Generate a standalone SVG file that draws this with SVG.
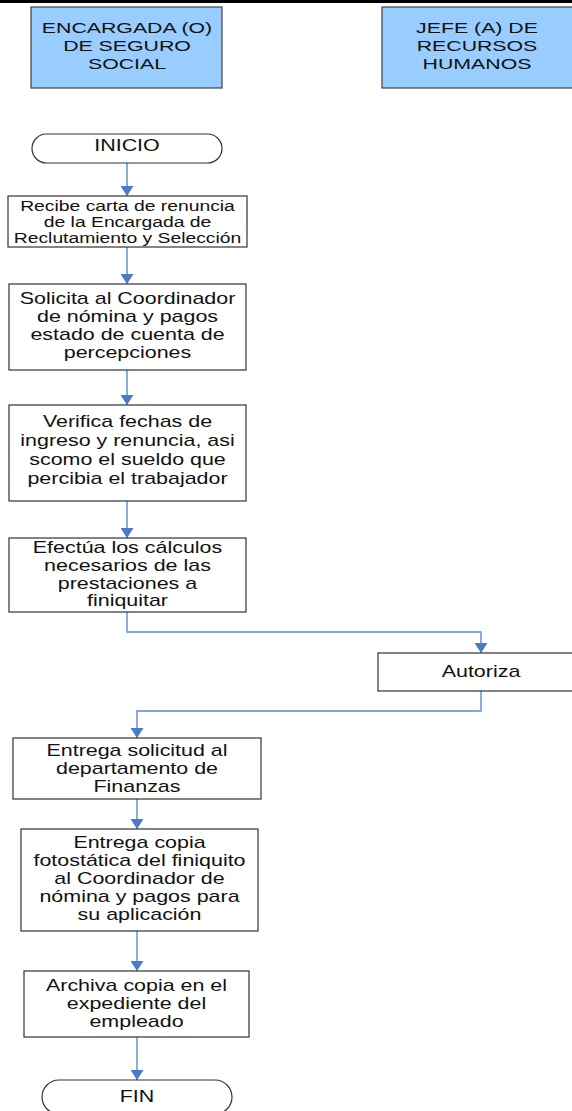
<svg xmlns="http://www.w3.org/2000/svg" width="572" height="1111" viewBox="0 0 572 1111">
  <defs>
    <!-- filled arrowhead, tip at the end of the line -->
    <marker id="arrow" markerUnits="userSpaceOnUse" markerWidth="11" markerHeight="13" refX="10" refY="6.5" orient="auto" viewBox="0 0 11 13">
      <path d="M0,0 L10,6.5 L0,13 Z" fill="#4A7BC8"/>
    </marker>
    <style>
      .lane { fill: #99CCFF; stroke: #404040; stroke-width: 1.2; }
      .box { fill: #FFFFFF; stroke: #333333; stroke-width: 1.2; }
      .term { fill: #FFFFFF; stroke: #333333; stroke-width: 1.2; }
      .t { font-family: "Liberation Sans", Arial, sans-serif; fill: #111111; text-anchor: middle; }
      .h { font-size: 15px; }
      .s { font-size: 14px; }
      .m { font-size: 16px; }
      .link { fill: none; stroke: #5B8AD0; stroke-width: 1.4; }
      .arr { marker-end: url(#arrow); }
    </style>
  </defs>

  <rect x="0" y="0" width="572" height="3" fill="#000000"/>

  <!-- swimlane headers -->
  <g id="lane-seguro-social">
    <rect class="lane" x="31" y="7" width="191" height="81"/>
    <g transform="translate(127 0) scale(1.42 1)">
      <text class="t h" x="0" y="33">ENCARGADA (O)</text>
      <text class="t h" x="0" y="51">DE SEGURO</text>
      <text class="t h" x="0" y="69">SOCIAL</text>
    </g>
  </g>
  <g id="lane-rrhh">
    <rect class="lane" x="382" y="7" width="191" height="81"/>
    <g transform="translate(477 0) scale(1.42 1)">
      <text class="t h" x="0" y="33">JEFE (A) DE</text>
      <text class="t h" x="0" y="51">RECURSOS</text>
      <text class="t h" x="0" y="69">HUMANOS</text>
    </g>
  </g>

  <!-- connectors -->
  <g id="connectors">
    <path class="link arr" d="M127,163 V196"/>
    <path class="link arr" d="M127,247 V284"/>
    <path class="link arr" d="M127,370 V405"/>
    <path class="link arr" d="M127,501 V538"/>
    <path class="link arr" d="M127,612 V632 H481 V653"/>
    <path class="link arr" d="M481,691 V711 H137 V738"/>
    <path class="link arr" d="M137,799 V829"/>
    <path class="link arr" d="M137,931 V971"/>
    <path class="link arr" d="M137,1037 V1080"/>
  </g>

  <g id="inicio">
    <rect class="term" x="32" y="134" width="190" height="29" rx="14.5" ry="14.5"/>
    <g transform="translate(127 0) scale(1.34 1)">
      <text class="t m" x="0" y="151">INICIO</text>
    </g>
  </g>

  <g id="recibe-carta">
    <rect class="box" x="8" y="196" width="239" height="51"/>
    <g transform="translate(127.5 0) scale(1.38 1)">
      <text class="t s" x="0" y="211">Recibe carta de renuncia</text>
      <text class="t s" x="0" y="227">de la Encargada de</text>
      <text class="t s" x="0" y="243">Reclutamiento y Selección</text>
    </g>
  </g>

  <g id="solicita-estado">
    <rect class="box" x="9" y="284" width="237" height="86"/>
    <g transform="translate(127.5 0) scale(1.34 1)">
      <text class="t m" x="0" y="304">Solicita al Coordinador</text>
      <text class="t m" x="0" y="322">de nómina y pagos</text>
      <text class="t m" x="0" y="340">estado de cuenta de</text>
      <text class="t m" x="0" y="358">percepciones</text>
    </g>
  </g>

  <g id="verifica-fechas">
    <rect class="box" x="9" y="405" width="237" height="96"/>
    <g transform="translate(127.5 0) scale(1.34 1)">
      <text class="t m" x="0" y="427">Verifica fechas de</text>
      <text class="t m" x="0" y="446">ingreso y renuncia, asi</text>
      <text class="t m" x="0" y="465">scomo el sueldo que</text>
      <text class="t m" x="0" y="484">percibia el trabajador</text>
    </g>
  </g>

  <g id="efectua-calculos">
    <rect class="box" x="9" y="538" width="237" height="74"/>
    <g transform="translate(127.5 0) scale(1.34 1)">
      <text class="t m" x="0" y="553">Efectúa los cálculos</text>
      <text class="t m" x="0" y="571">necesarios de las</text>
      <text class="t m" x="0" y="589">prestaciones a</text>
      <text class="t m" x="0" y="606">finiquitar</text>
    </g>
  </g>

  <g id="autoriza">
    <rect class="box" x="378" y="653" width="196" height="38"/>
    <g transform="translate(481 0) scale(1.34 1)">
      <text class="t m" x="0" y="677">Autoriza</text>
    </g>
  </g>

  <g id="entrega-solicitud">
    <rect class="box" x="13" y="738" width="248" height="61"/>
    <g transform="translate(137 0) scale(1.34 1)">
      <text class="t m" x="0" y="756">Entrega solicitud al</text>
      <text class="t m" x="0" y="774">departamento de</text>
      <text class="t m" x="0" y="792">Finanzas</text>
    </g>
  </g>

  <g id="entrega-copia">
    <rect class="box" x="21" y="829" width="237" height="102"/>
    <g transform="translate(139.5 0) scale(1.34 1)">
      <text class="t m" x="0" y="848">Entrega copia</text>
      <text class="t m" x="0" y="866">fotostática del finiquito</text>
      <text class="t m" x="0" y="884">al Coordinador de</text>
      <text class="t m" x="0" y="902">nómina y pagos para</text>
      <text class="t m" x="0" y="920">su aplicación</text>
    </g>
  </g>

  <g id="archiva-copia">
    <rect class="box" x="24" y="971" width="225" height="66"/>
    <g transform="translate(136.5 0) scale(1.34 1)">
      <text class="t m" x="0" y="991">Archiva copia en el</text>
      <text class="t m" x="0" y="1009">expediente del</text>
      <text class="t m" x="0" y="1027">empleado</text>
    </g>
  </g>

  <g id="fin">
    <rect class="term" x="42" y="1080" width="190" height="34" rx="17" ry="17"/>
    <g transform="translate(137 0) scale(1.34 1)">
      <text class="t m" x="0" y="1102">FIN</text>
    </g>
  </g>
</svg>
